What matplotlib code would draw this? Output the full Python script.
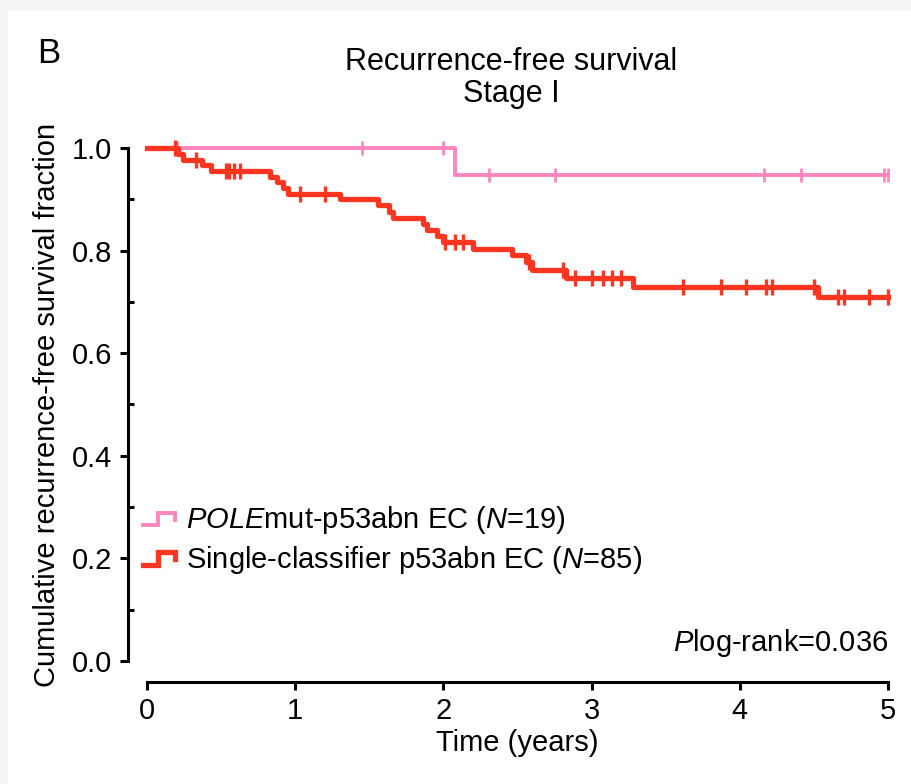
import numpy as np
import matplotlib
matplotlib.use("Agg")
import matplotlib.pyplot as plt
from matplotlib.lines import Line2D
from matplotlib.legend_handler import HandlerBase
from matplotlib.patches import Rectangle

######## Data ################################################################

# Single-classifier p53abn EC (N=85): event times and survival after each step
red_times = [0.0, 0.21, 0.24, 0.37, 0.43, 0.83, 0.88, 0.92, 0.95, 1.30, 1.56,
             1.63, 1.66, 1.86, 1.89, 1.96, 2.00, 2.20, 2.46, 2.56, 2.60, 2.83,
             3.28, 4.53]
red_surv = [1.0, 0.988, 0.977, 0.966, 0.955, 0.944, 0.933, 0.922, 0.911, 0.900,
            0.888, 0.876, 0.864, 0.852, 0.840, 0.828, 0.817, 0.804, 0.791,
            0.778, 0.762, 0.747, 0.729, 0.710]
red_censor = [0.19, 0.33, 0.53, 0.55, 0.59, 0.63, 1.03, 1.20, 2.01, 2.08, 2.13,
              2.58, 2.81, 2.89, 3.00, 3.08, 3.14, 3.20, 3.62, 3.87, 4.04, 4.18,
              4.22, 4.50, 4.66, 4.70, 4.87, 5.00]

# POLEmut-p53abn EC (N=19)
pink_times = [0.0, 2.08]
pink_surv = [1.0, 0.947]
pink_censor = [0.20, 1.45, 2.00, 2.31, 2.75, 4.16, 4.41, 4.97, 5.00]

x_ticks = [0, 1, 2, 3, 4, 5]
y_ticks = [0.0, 0.2, 0.4, 0.6, 0.8, 1.0]
y_tick_labels = ["0.0", "0.2", "0.4", "0.6", "0.8", "1.0"]

red_label = r"Single-classifier p53abn EC ($\mathit{N}$=85)"
pink_label = r"$\mathit{POLE}$mut-p53abn EC ($\mathit{N}$=19)"

RED = "#ff3520"
PINK = "#ff86bd"

######## Style ################################################################

plt.rcParams["font.family"] = ["Liberation Sans", "DejaVu Sans"]
plt.rcParams["mathtext.fontset"] = "custom"
plt.rcParams["mathtext.rm"] = "Liberation Sans"
plt.rcParams["mathtext.it"] = "Liberation Sans:italic"
plt.rcParams["mathtext.default"] = "regular"

FS = 21


def surv_at(times, surv, t):
    idx = np.searchsorted(times, t, side="right") - 1
    return np.asarray(surv)[idx]


class StepHandler(HandlerBase):
    # little step-shaped legend key like the one in the paper
    def create_artists(self, legend, orig_handle, xdescent, ydescent,
                       width, height, fontsize, trans):
        xs = [0, 0.45 * width, 0.45 * width, width, width]
        ys = [0.15 * height, 0.15 * height, 0.75 * height, 0.75 * height, 0.4 * height]
        ln = Line2D(np.array(xs) - xdescent, np.array(ys) - ydescent,
                    color=orig_handle.get_color(), lw=orig_handle.get_linewidth(),
                    solid_joinstyle="miter", transform=trans)
        return [ln]


######## Plot #################################################################

fig = plt.figure(figsize=(9.12, 7.84), dpi=100, facecolor="#f4f4f4")
fig.patches.append(Rectangle((8 / 912, 0), 1, 1 - 10 / 784, transform=fig.transFigure,
                             facecolor="white", edgecolor="none", zorder=-10))

ax = fig.add_axes([147 / 912, 1 - 661 / 784, (888 - 147) / 912, (661 - 148) / 784])
ax.patch.set_alpha(0)

rt = red_times + [5.0]
rs = red_surv + [red_surv[-1]]
pt = pink_times + [5.0]
ps = pink_surv + [pink_surv[-1]]

ax.step(pt, ps, where="post", color=PINK, lw=2.8, clip_on=False, zorder=3)
ax.plot(pink_censor, surv_at(pink_times, pink_surv, pink_censor), ls="none",
        marker="|", ms=10, mew=2.0, color=PINK, clip_on=False, zorder=3)
ax.step(rt, rs, where="post", color=RED, lw=3.8, clip_on=False, zorder=4)
ax.plot(red_censor, surv_at(red_times, red_surv, red_censor), ls="none",
        marker="|", ms=11.5, mew=2.4, color=RED, clip_on=False, zorder=4)

ax.set_xlim(0, 5)
ax.set_ylim(0, 1)

for s in ["top", "right"]:
    ax.spines[s].set_visible(False)
ax.spines["left"].set_position(("outward", 14))
ax.spines["bottom"].set_position(("outward", 15))
for s in ["left", "bottom"]:
    ax.spines[s].set_linewidth(2.2)

ax.set_xticks(x_ticks)
ax.set_yticks(y_ticks)
ax.set_yticklabels(y_tick_labels)
ax.set_yticks(np.arange(0.1, 1.0, 0.2), minor=True)
ax.tick_params(axis="both", which="major", direction="out", length=6, width=2.2,
               labelsize=FS, pad=5)
ax.tick_params(axis="y", which="minor", direction="in", length=4, width=2.2)

ax.set_xlabel("Time (years)", fontsize=FS, labelpad=3)
ax.set_ylabel("Cumulative recurrence-free survival fraction", fontsize=FS, labelpad=8)

handles = [Line2D([], [], color=PINK, lw=2.8), Line2D([], [], color=RED, lw=3.8)]
ax.legend(handles, [pink_label, red_label], loc="center left",
          bbox_to_anchor=(-0.005, 0.236), frameon=False, fontsize=FS,
          handlelength=1.1, handletextpad=0.35, labelspacing=0.25, borderpad=0,
          borderaxespad=0, handler_map={Line2D: StepHandler()})

ax.text(1.0, 0.02, r"$\mathit{P}$log-rank=0.036", transform=ax.transAxes,
        ha="right", va="baseline", fontsize=FS)

fig.text(511 / 912, 1 - 70 / 784, "Recurrence-free survival", ha="center",
         va="baseline", fontsize=22)
fig.text(511 / 912, 1 - 102 / 784, "Stage I", ha="center", va="baseline", fontsize=22)
fig.text(37 / 912, 1 - 63 / 784, "B", ha="left", va="baseline", fontsize=25)

fig.savefig("out.png", dpi=100, facecolor=fig.get_facecolor())
